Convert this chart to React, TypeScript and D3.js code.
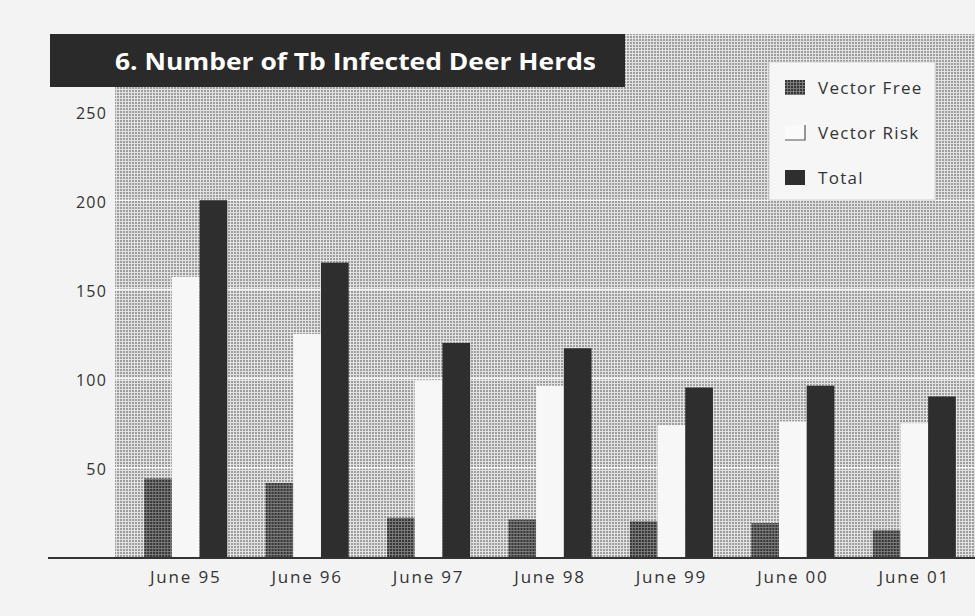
import React from 'react';
import * as d3 from 'd3';

const categories = ['June 95', 'June 96', 'June 97', 'June 98', 'June 99', 'June 00', 'June 01'];
const seriesNames = ['Vector Free', 'Vector Risk', 'Total'];
const vectorFree = [44, 41.5, 22, 21, 20, 19, 15];
const vectorRisk = [157, 125, 99, 96, 74, 76, 75];
const total = [200, 165, 120, 117, 95, 96, 90];
const yTicks = [50, 100, 150, 200, 250];
const gridTicks = [50, 100, 150, 200];

const W = 975;
const H = 616;
const font = '"Open Sans", "Noto Sans", sans-serif';

function App() {
  const x = d3.scaleBand()
    .domain(categories)
    .range([125, 975])
    .paddingInner(0.316)
    .paddingOuter(0.158);

  const xSub = d3.scaleBand()
    .domain(seriesNames)
    .range([0, x.bandwidth()]);

  const y = d3.scaleLinear()
    .domain([0, 250])
    .range([557, 111]);

  const fills = {
    'Vector Free': 'url(#vfPat)',
    'Vector Risk': '#f7f7f7',
    'Total': '#2e2e2e',
  };

  const rows = categories.map((c, i) => ({
    cat: c,
    values: [
      { key: 'Vector Free', v: vectorFree[i] },
      { key: 'Vector Risk', v: vectorRisk[i] },
      { key: 'Total', v: total[i] },
    ],
  }));

  return (
    <svg width={W} height={H} style={{ position: 'absolute', left: 0, top: 0 }}>
      <defs>
        <pattern id="bgPat" width="3" height="3" patternUnits="userSpaceOnUse">
          <rect width="3" height="3" fill="#e2e2e2" />
          <rect width="2" height="2" fill="#9d9d9d" />
        </pattern>
        <pattern id="vfPat" width="3" height="3" patternUnits="userSpaceOnUse">
          <rect width="3" height="3" fill="#7a7a7a" />
          <rect width="2" height="2" fill="#363636" />
        </pattern>
      </defs>

      <rect width={W} height={H} fill="#f3f3f3" />

      {/* halftone plot area */}
      <rect x={115} y={34} width={W - 115} height={557 - 34} fill="url(#bgPat)" />

      {gridTicks.map((t) => (
        <line key={t} x1={115} x2={W} y1={y(t)} y2={y(t)}
          stroke="#ffffff" strokeWidth={1.5} opacity={t === 200 ? 0.6 : 0.9} />
      ))}

      {/* title */}
      <rect x={50} y={34} width={575} height={53} fill="#2a2a2a" />
      <text x={115} y={70} fill="#ffffff" fontFamily={font} fontWeight="bold" fontSize={24}
        textLength={481} lengthAdjust="spacingAndGlyphs">
        6. Number of Tb Infected Deer Herds
      </text>

      {/* bars */}
      {rows.map((r) => (
        <g key={r.cat} transform={`translate(${x(r.cat)},0)`}>
          {r.values.map((d) => (
            <rect key={d.key}
              x={xSub(d.key)}
              y={y(d.v)}
              width={xSub.bandwidth()}
              height={y(0) - y(d.v)}
              fill={fills[d.key]} />
          ))}
        </g>
      ))}

      {/* baseline */}
      <line x1={48} x2={W} y1={y(0) + 1} y2={y(0) + 1} stroke="#333" strokeWidth={2} />

      {/* y labels */}
      {yTicks.map((t) => (
        <text key={t} x={107} y={y(t) + 2} dy="0.35em" textAnchor="end"
          fontFamily={font} fontSize={16} letterSpacing={1.2} fill="#333">
          {t}
        </text>
      ))}

      {/* x labels */}
      {categories.map((c) => (
        <text key={c} x={(x(c) || 0) + x.bandwidth() / 2} y={583} textAnchor="middle"
          fontFamily={font} fontSize={17} letterSpacing={1.8} fill="#333">
          {c}
        </text>
      ))}

      {/* legend */}
      <g transform="translate(769,62)">
        <rect width={166} height={138} fill="#f6f6f6" stroke="#d0d0d0" />
        {seriesNames.map((s, i) => (
          <g key={s} transform={`translate(16,${18 + i * 45})`}>
            {s === 'Vector Risk' ? (
              <g>
                <rect width={20} height={15} fill="#fafafa" />
                <path d="M0,15 H20 V0" fill="none" stroke="#555" strokeWidth={1.2} />
              </g>
            ) : (
              <rect width={20} height={15} fill={fills[s]} />
            )}
            <text x={33} y={8} dy="0.35em" fontFamily={font} fontSize={17}
              letterSpacing={1.3} fill="#333">
              {s}
            </text>
          </g>
        ))}
      </g>
    </svg>
  );
}

export default App;
